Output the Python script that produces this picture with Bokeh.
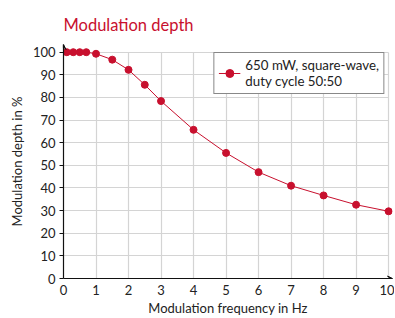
from bokeh.plotting import figure
from bokeh.models import Range1d, FixedTicker, Legend, LegendItem, Arrow, VeeHead
from bokeh.embed import file_html
from bokeh.resources import INLINE

freq = [0.1, 0.3, 0.5, 0.7, 1, 1.5, 2, 2.5, 3, 4, 5, 6, 7, 8, 9, 10]
depth = [100, 100, 100, 100, 99.3, 96.7, 92.2, 85.6, 78.4, 65.7, 55.5, 47.0, 41.0, 36.7, 32.6, 29.7]
series_label = "650 mW, square-wave,\nduty cycle 50:50"
x_ticks = list(range(0, 11))
y_ticks = list(range(0, 101, 10))

RED = "#C8102E"
FONT = "Lato"

p = figure(width=394, height=318, output_backend="svg", toolbar_location=None,
           x_range=Range1d(0, 10.12), y_range=Range1d(0, 103.4),
           min_border_left=63, min_border_right=2, min_border_top=44, min_border_bottom=39)
p.title.text = "Modulation depth"
p.title.text_color = RED
p.title.text_font = FONT
p.title.text_font_size = "16.5px"
p.title.text_font_style = "normal"
p.title.offset = 0
p.title.standoff = 19

p.outline_line_color = None

r_line = p.line(freq, depth, line_color=RED, line_width=1)
r_pts = p.scatter(freq, depth, size=7, fill_color=RED, line_color=RED)

for ax in (p.xaxis[0], p.yaxis[0]):
    ax.axis_line_color = "#111111"
    ax.axis_line_width = 1.2
    ax.major_label_text_font = FONT
    ax.major_label_text_font_size = "13px"
    ax.major_label_text_color = "#222222"
    ax.axis_label_text_font = FONT
    ax.axis_label_text_font_size = "13px"
    ax.axis_label_text_font_style = "normal"
    ax.axis_label_text_color = "#222222"
    ax.minor_tick_line_color = None
    ax.major_tick_in = 0

p.xaxis.ticker = FixedTicker(ticks=x_ticks)
p.yaxis.ticker = FixedTicker(ticks=y_ticks)
p.xaxis.axis_label = "Modulation frequency in Hz"
p.yaxis.axis_label = "Modulation depth in %"
p.xaxis.major_tick_out = 0
p.yaxis.major_tick_out = 4
p.yaxis.major_tick_line_color = "#111111"
p.xaxis.major_label_standoff = 6
p.yaxis.major_label_standoff = 4
p.xaxis.axis_label_standoff = 2

p.xgrid.grid_line_color = "#d4d4d4"
p.ygrid.grid_line_color = "#d4d4d4"
p.xgrid.grid_line_width = 1.2
p.ygrid.grid_line_width = 1.2
try:
    p.xgrid.cross_bounds = (0, 100)
    p.ygrid.cross_bounds = (0, 10)
except Exception:
    pass

p.add_layout(Arrow(end=VeeHead(size=5, fill_color="#111111", line_color="#111111", line_width=1),
                   x_start=0, y_start=101, x_end=0, y_end=103.4, line_color="#111111", line_width=1.2))
p.add_layout(Arrow(end=VeeHead(size=5, fill_color="#111111", line_color="#111111", line_width=1),
                   x_start=9.9, y_start=0, x_end=10.12, y_end=0, line_color="#111111", line_width=1.2))

legend = Legend(items=[LegendItem(label=series_label, renderers=[r_line, r_pts])],
                location="top_right")
legend.border_line_color = "#111111"
legend.border_line_width = 1.2
legend.label_text_font = FONT
legend.label_text_font_size = "13.3px"
legend.label_text_color = "#222222"
legend.glyph_width = 22
legend.label_standoff = 5
legend.padding = 4
legend.margin = 8
legend.background_fill_alpha = 1
p.add_layout(legend)

open("out.html", "w").write(file_html(p, INLINE))
